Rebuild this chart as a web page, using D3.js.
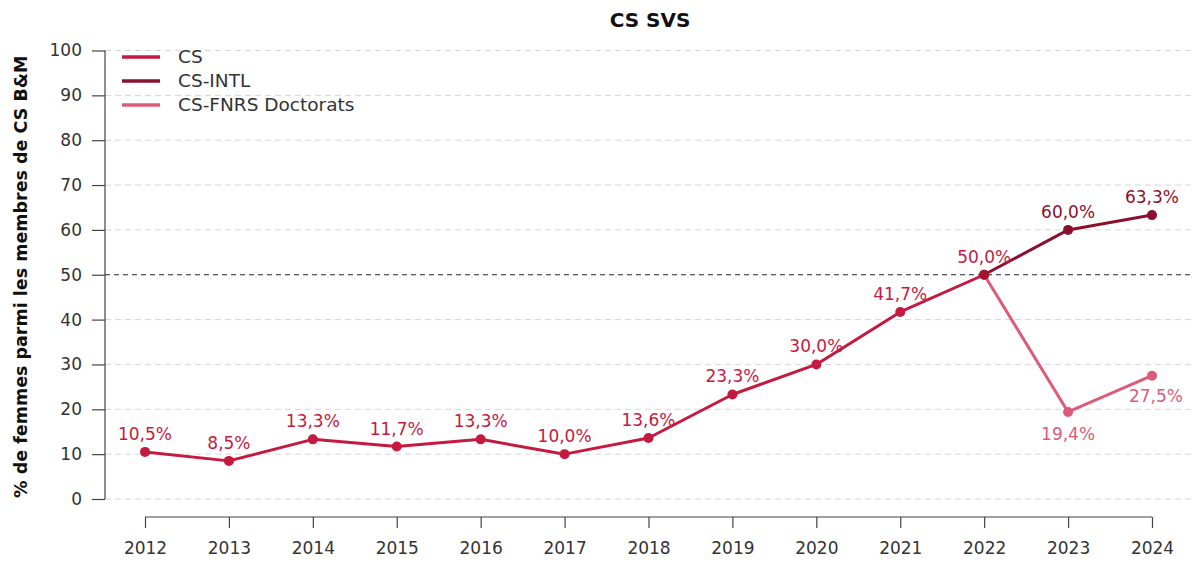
<!DOCTYPE html>
<html>
<head>
<meta charset="utf-8">
<script src="https://cdn.jsdelivr.net/npm/d3@7"></script>
<style>
  html, body { margin: 0; padding: 0; background: #fff; }
  svg { display: block; font-family: "DejaVu Sans", sans-serif; }
</style>
</head>
<body>
<svg id="chart" width="1192" height="568"></svg>
<script>
// Share of women among CS members, by year
const years = [2012, 2013, 2014, 2015, 2016, 2017, 2018, 2019, 2020, 2021, 2022, 2023, 2024];
const csYears = [2012, 2013, 2014, 2015, 2016, 2017, 2018, 2019, 2020, 2021, 2022];
const csValues = [10.5, 8.5, 13.3, 11.7, 13.3, 10.0, 13.6, 23.3, 30.0, 41.7, 50.0];
const intlYears = [2022, 2023, 2024];
const intlValues = [50.0, 60.0, 63.3];
const fnrsYears = [2022, 2023, 2024];
const fnrsValues = [50.0, 19.4, 27.5];
const yTicks = [0, 10, 20, 30, 40, 50, 60, 70, 80, 90, 100];
const seriesNames = ["CS", "CS-INTL", "CS-FNRS Doctorats"];

const colCS = "#c41a3f";
const colINTL = "#8c0f2e";
const colFNRS = "#dc5b78";
const FONT = "DejaVu Sans, sans-serif";

const svg = d3.select("#chart");
const x = d3.scaleLinear().domain([2012, 2024]).range([145, 1152]);
const y = d3.scaleLinear().domain([0, 100]).range([499, 50.5]);

// Horizontal gridlines
svg.append("g").selectAll("line").data(yTicks.filter(d => d !== 50)).join("line")
  .attr("x1", 105).attr("x2", 1192)
  .attr("y1", d => y(d)).attr("y2", d => y(d))
  .attr("stroke", "#d6d6d6").attr("stroke-width", 1).attr("stroke-dasharray", "6,4");

// Parity reference line
svg.append("line")
  .attr("x1", 105).attr("x2", 1192).attr("y1", y(50)).attr("y2", y(50))
  .attr("stroke", "#222").attr("stroke-width", 1).attr("stroke-dasharray", "5,4");

// Y axis
const yAxis = d3.axisLeft(y).tickValues(yTicks).tickSize(13).tickPadding(10).tickFormat(d3.format("d"));
const gy = svg.append("g").attr("transform", "translate(105,0)").call(yAxis);
gy.select(".domain").attr("d", `M0,${y(100)}V${y(0)}`).attr("stroke", "#444").attr("stroke-width", 1.2);
gy.selectAll(".tick line").attr("stroke", "#444").attr("stroke-width", 1.2);
gy.selectAll(".tick text").attr("font-size", 17).attr("fill", "#333").attr("font-family", FONT);

// X axis
const xAxis = d3.axisBottom(x).tickValues(years).tickSize(11).tickPadding(14).tickFormat(d3.format("d"));
const gx = svg.append("g").attr("transform", "translate(0,517)").call(xAxis);
gx.select(".domain").attr("d", `M${x(2012)},0H${x(2024)}`).attr("stroke", "#444").attr("stroke-width", 1.2);
gx.selectAll(".tick line").attr("stroke", "#444").attr("stroke-width", 1.2);
gx.selectAll(".tick text").attr("font-size", 17).attr("fill", "#333").attr("font-family", FONT);

const line = d3.line().x(d => x(d[0])).y(d => y(d[1]));
const fmt = v => d3.format(".1f")(v).replace(".", ",") + "%";

function drawSeries(xs, vs, color, labelColor, labelPos, skipFirst) {
  const pts = xs.map((d, i) => [d, vs[i]]);
  svg.append("path").datum(pts).attr("d", line)
    .attr("fill", "none").attr("stroke", color).attr("stroke-width", 3)
    .attr("stroke-linejoin", "round");
  const p = skipFirst ? pts.slice(1) : pts;
  svg.append("g").selectAll("circle").data(p).join("circle")
    .attr("cx", d => x(d[0])).attr("cy", d => y(d[1])).attr("r", 5)
    .attr("fill", color);
  svg.append("g").selectAll("text").data(p).join("text")
    .attr("x", (d, i) => x(d[0]) + labelPos(d, i)[0])
    .attr("y", (d, i) => y(d[1]) + labelPos(d, i)[1])
    .attr("text-anchor", "middle")
    .attr("font-size", 17).attr("fill", labelColor)
    .attr("font-family", FONT)
    .text(d => fmt(d[1]));
}

drawSeries(intlYears, intlValues, colINTL, colINTL, () => [0, -12], true);
drawSeries(fnrsYears, fnrsValues, colFNRS, colFNRS,
  (d, i) => i === 0 ? [0, 28] : [4, 26], true);
drawSeries(csYears, csValues, colCS, colCS, () => [0, -12], false);
// 2022 point sits on top of all three lines
svg.append("circle").attr("cx", x(2022)).attr("cy", y(50)).attr("r", 5).attr("fill", "#a5122f");

// Legend
const legendColors = [colCS, colINTL, colFNRS];
const lg = svg.append("g");
seriesNames.forEach((name, i) => {
  const ly = 57 + i * 24;
  lg.append("line").attr("x1", 122).attr("x2", 160).attr("y1", ly).attr("y2", ly)
    .attr("stroke", legendColors[i]).attr("stroke-width", 3.5);
  lg.append("text").attr("x", 178).attr("y", ly + 6).attr("font-size", 18.5)
    .attr("fill", "#333").attr("font-family", FONT).text(name);
});

// Title
svg.append("text").attr("x", 650).attr("y", 27).attr("text-anchor", "middle")
  .attr("font-size", 20).attr("font-weight", "bold").attr("fill", "#111")
  .attr("font-family", FONT).text("CS SVS");

// Y axis title
svg.append("text").attr("transform", `translate(27,${y(50) + 2}) rotate(-90)`)
  .attr("text-anchor", "middle").attr("font-size", 17.5).attr("font-weight", "bold")
  .attr("fill", "#111").attr("font-family", FONT)
  .text("% de femmes parmi les membres de CS B&M");
</script>
</body>
</html>
